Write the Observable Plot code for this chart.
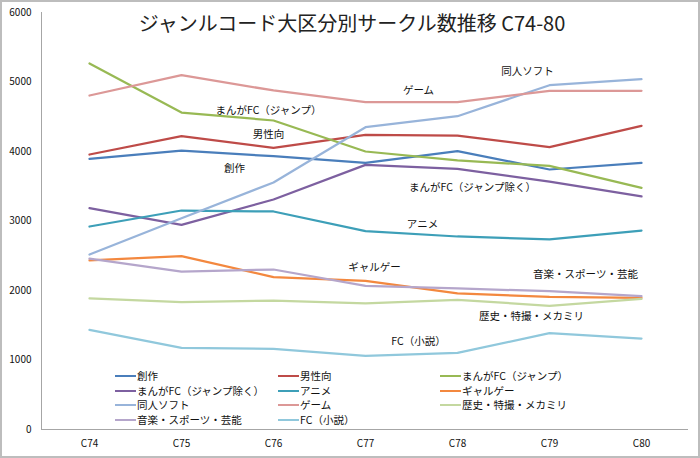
<!DOCTYPE html>
<html><head><meta charset="utf-8">
<script src="https://cdn.jsdelivr.net/npm/d3@7"></script>
<script src="https://cdn.jsdelivr.net/npm/@observablehq/plot@0.6"></script>
<style>
html,body{margin:0;padding:0;background:#fff;}
#wrap{position:relative;width:700px;height:458px;overflow:hidden;font-family:"Noto Sans CJK JP","Noto Sans",sans-serif;}
#wrap svg{position:absolute;left:0;top:0;}
#border{position:absolute;left:0;top:0;width:700px;height:458px;box-sizing:border-box;border:2px solid #bdbdbd;pointer-events:none;}
#title{position:absolute;left:2px;width:700px;top:8px;text-align:center;font-size:20px;color:#222;white-space:nowrap;}
.leg{position:absolute;display:flex;align-items:center;font-size:10.5px;color:#111;white-space:nowrap;line-height:12px;}
.leg .sw{display:inline-block;width:21px;height:2.5px;margin-right:1px;}
</style>
</head><body>
<div id="wrap"><div id="title">ジャンルコード大区分別サークル数推移 C74-80</div><div id="border"></div></div>
<script>
const events = ["C74","C75","C76","C77","C78","C79","C80"];
const seriesNames = ["創作","男性向","まんがFC（ジャンプ）","まんがFC（ジャンプ除く）","アニメ","ギャルゲー","同人ソフト","ゲーム","歴史・特撮・メカミリ","音楽・スポーツ・芸能","FC（小説）"];
const sousaku     = [3895, 4014, 3932, 3837, 4005, 3741, 3837];
const danseimuke  = [3957, 4220, 4053, 4240, 4230, 4062, 4370];
const mangaJump   = [5266, 4561, 4446, 4000, 3871, 3794, 3477];
const mangaExJump = [3184, 2945, 3309, 3808, 3751, 3568, 3353];
const anime       = [2921, 3151, 3137, 2853, 2777, 2734, 2863];
const galge       = [2432, 2494, 2192, 2139, 1957, 1909, 1895];
const doujinSoft  = [2518, 3040, 3554, 4350, 4508, 4954, 5040];
const game        = [4806, 5098, 4878, 4710, 4710, 4873, 4873];
const rekishi     = [1885, 1832, 1856, 1813, 1866, 1780, 1880];
const ongaku      = [2460, 2273, 2302, 2067, 2029, 1990, 1918];
const fcNovel     = [1434, 1175, 1161, 1060, 1103, 1386, 1309];
const yTicks = [0, 1000, 2000, 3000, 4000, 5000, 6000];

const seriesValues = [sousaku, danseimuke, mangaJump, mangaExJump, anime, galge, doujinSoft, game, rekishi, ongaku, fcNovel];
const colors = ["#4a7ebb","#be4b48","#98b954","#7d60a0","#3d9fb8","#f3883f","#98b4da","#dc9897","#c4d8a0","#b5a6cb","#90c8dc"];

const rows = [];
seriesNames.forEach((s, i) => seriesValues[i].forEach((v, j) => rows.push({series: s, event: events[j], value: v})));

// in-chart annotations (category, value, pixel offset)
const labels = [
  {text:"まんがFC（ジャンプ）", event:"C76", value:4590, dx:-5},
  {text:"男性向", event:"C76", value:4245, dx:-5},
  {text:"創作", event:"C76", value:3755, dx:-39},
  {text:"ゲーム", event:"C77", value:4878, dx:53},
  {text:"同人ソフト", event:"C78", value:5151, dx:70},
  {text:"まんがFC（ジャンプ除く）", event:"C78", value:3482, dx:15},
  {text:"アニメ", event:"C77", value:2950, dx:57},
  {text:"ギャルゲー", event:"C77", value:2331, dx:9},
  {text:"音楽・スポーツ・芸能", event:"C79", value:2230, dx:36},
  {text:"歴史・特撮・メカミリ", event:"C79", value:1626, dx:-18},
  {text:"FC（小説）", event:"C77", value:1266, dx:53}
];

const chart = Plot.plot({
  width: 700, height: 458,
  marginLeft: 41, marginRight: 12, marginTop: 12, marginBottom: 29,
  style: {fontFamily: '"Noto Sans CJK JP","Noto Sans",sans-serif', fontSize: "10px", color: "#111", background: "transparent"},
  x: {type: "point", domain: events, padding: 0.5, label: null},
  y: {domain: [0, 6000], label: null},
  color: {domain: seriesNames, range: colors},
  marks: [
    Plot.axisY({ticks: yTicks, tickSize: 0, tickPadding: 10, label: null, tickFormat: d3.format("d")}),
    Plot.axisX({tickSize: 0, tickPadding: 10, label: null}),
    Plot.ruleY([0], {stroke: "#a6a6a6", strokeWidth: 1}),
    Plot.frame({anchor: "left", stroke: "#a6a6a6", strokeWidth: 1}),
    Plot.lineY(rows, {x: "event", y: "value", z: "series", stroke: "series", strokeWidth: 2.25}),
    ...labels.map(l => Plot.text([l], {x: "event", y: "value", dx: l.dx, text: "text", fontSize: 10.5, fill: "#111"}))
  ]
});
const wrap = document.getElementById("wrap");
wrap.insertBefore(chart, wrap.firstChild);

// legend (3 columns, row-major)
const colX = [115, 278, 440];
const rowY = [376, 391, 405, 420];
seriesNames.forEach((s, i) => {
  const d = document.createElement("div");
  d.className = "leg";
  d.style.left = colX[i % 3] + "px";
  d.style.top = (rowY[Math.floor(i / 3)] - 6) + "px";
  d.innerHTML = `<span class="sw" style="background:${colors[i]}"></span><span>${s}</span>`;
  wrap.appendChild(d);
});
</script>
</body></html>
